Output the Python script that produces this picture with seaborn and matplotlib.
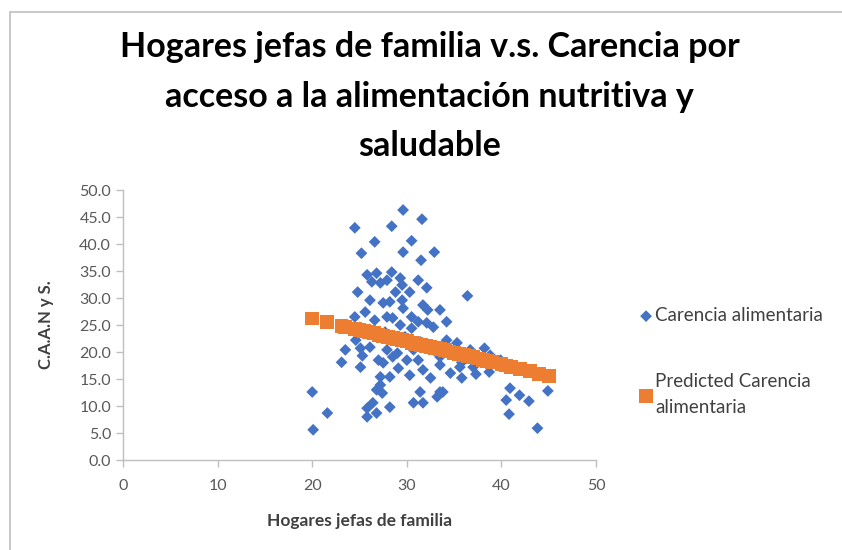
import pandas as pd
import matplotlib.pyplot as plt
import seaborn as sns
from matplotlib.patches import Rectangle

# ----- data -----
hogares = [29.6, 31.6, 24.5, 28.4, 26.6, 30.5, 25.2, 29.6, 32.9, 31.5,
           25.8, 26.8, 28.4, 26.3, 27.2, 27.9, 29.3, 29.5, 31.2, 32.1,
           24.8, 26.1, 27.5, 28.2, 29.5, 29.6, 32.2, 33.5, 36.4, 24.5,
           27.9, 30.5, 31.2, 29.3, 30.5, 32.1, 32.8, 34.2, 25.1, 26.1,
           27.9, 29.0, 30.7, 33.5, 23.1, 25.1, 27.5, 28.5, 30.0, 27.2,
           28.2, 30.3, 31.7, 33.5, 34.6, 35.6, 26.8, 27.4, 31.4, 33.5,
           30.7, 31.7, 25.8, 26.4, 28.2, 25.8, 26.8, 20.0, 21.6, 20.1,
           27.2, 33.2, 33.8, 35.3, 38.2, 35.8, 35.8, 37.0, 37.3, 38.7,
           40.9, 41.9, 40.5, 42.9, 40.8, 43.8, 44.9, 24.6, 25.3, 27.7,
           28.8, 29.8, 31.4, 32.5, 34.2, 36.7, 29.1, 31.2, 32.5, 23.5,
           28.5, 26.6, 25.6, 31.7, 30.3, 28.8, 27.0, 34.6, 39.9, 38.8]
carencia = [46.3, 44.6, 43.0, 43.3, 40.4, 40.6, 38.3, 38.5, 38.5, 37.0,
            34.3, 34.6, 34.8, 33.0, 32.8, 33.3, 33.7, 32.4, 33.3, 31.9,
            31.1, 29.6, 29.1, 29.3, 29.6, 28.1, 27.8, 27.8, 30.4, 26.5,
            26.5, 26.5, 25.6, 25.0, 24.4, 25.4, 24.6, 25.6, 20.7, 20.9,
            20.4, 19.8, 20.4, 19.1, 18.1, 17.2, 18.0, 19.1, 18.5, 15.4,
            15.4, 15.7, 16.7, 17.6, 16.1, 17.2, 13.0, 12.4, 12.6, 12.6,
            10.6, 10.6, 9.6, 10.6, 9.8, 8.0, 8.7, 12.6, 8.7, 5.6,
            13.9, 11.7, 12.6, 21.7, 20.7, 18.1, 15.2, 17.2, 15.9, 16.3,
            13.3, 12.0, 11.1, 10.9, 8.5, 5.9, 12.8, 22.2, 19.3, 23.7,
            22.2, 22.8, 21.9, 20.9, 22.2, 20.4, 17.0, 18.5, 15.2, 20.4,
            26.3, 25.9, 27.4, 28.7, 31.1, 31.1, 18.5, 20.4, 18.5, 19.4]

pred_x = [20.0, 21.6, 23.1, 23.5, 24.5, 25.0, 25.5, 26.0, 26.5, 27.0,
          27.5, 28.0, 28.5, 29.0, 29.5, 30.0, 30.5, 31.0, 31.5, 32.0,
          32.5, 33.0, 33.5, 34.0, 34.5, 35.0, 35.5, 36.0, 36.5, 37.0,
          37.5, 38.0, 38.5, 39.0, 40.0, 40.5, 41.0, 42.0, 43.0, 44.0, 45.0]
pred_y = [26.2, 25.5, 24.9, 24.7, 24.3, 24.1, 23.9, 23.7, 23.5, 23.2,
          23.0, 22.8, 22.6, 22.4, 22.2, 22.0, 21.7, 21.5, 21.3, 21.1,
          20.9, 20.7, 20.5, 20.3, 20.1, 19.8, 19.6, 19.4, 19.2, 19.0,
          18.8, 18.6, 18.4, 18.1, 17.7, 17.5, 17.3, 16.9, 16.5, 16.0, 15.6]

x_ticks = [0, 10, 20, 30, 40, 50]
y_ticks = [0, 5, 10, 15, 20, 25, 30, 35, 40, 45, 50]

df = pd.DataFrame({'hogares': hogares, 'carencia': carencia})
df_pred = pd.DataFrame({'hogares': pred_x, 'carencia': pred_y})

################# Plot #################
sns.set_theme(style="white")
plt.rcParams['font.family'] = ['Lato', 'DejaVu Sans']

fig = plt.figure(figsize=(8.42, 5.5), dpi=100)
ax = fig.add_axes([0.146, 0.1636, 0.562, 0.4909])

sns.scatterplot(data=df, x='hogares', y='carencia', marker='D', color='#4472C4',
                s=36, edgecolor='none', ax=ax, label='Carencia alimentaria', zorder=3)
sns.scatterplot(data=df_pred, x='hogares', y='carencia', marker='s', color='#ED7D31',
                s=100, edgecolor='none', ax=ax, label='Predicted Carencia\nalimentaria', zorder=4)

ax.set_xlim(0, 50)
ax.set_ylim(0, 50)
ax.set_xticks(x_ticks)
ax.set_yticks(y_ticks)
ax.set_yticklabels([f"{v:.1f}" for v in y_ticks])
ax.tick_params(axis='both', which='both', direction='out', length=5, width=1,
               color='#BFBFBF', labelcolor='#595959', labelsize=11.5,
               bottom=True, left=True)
ax.tick_params(axis='x', pad=9)
for side in ['top', 'right']:
    ax.spines[side].set_visible(False)
for side in ['left', 'bottom']:
    ax.spines[side].set_color('#BFBFBF')
    ax.spines[side].set_linewidth(1)

ax.set_xlabel("Hogares jefas de familia", fontsize=12.5, fontweight='bold',
              color='#404040', labelpad=14)
ax.set_ylabel("C.A.A.N y S.", fontsize=12, fontweight='bold', color='#404040', labelpad=18)

leg = ax.legend(loc='center left', bbox_to_anchor=(1.05, 0.365), frameon=False,
                fontsize=13.5, handletextpad=-0.5, labelspacing=2.6, borderaxespad=0)
for t in leg.get_texts():
    t.set_color('#404040')
    t.set_linespacing(1.65)

fig.text(0.51, 0.824, "Hogares jefas de familia v.s. Carencia por\nacceso a la alimentación nutritiva y\nsaludable",
         ha='center', va='center', fontsize=24.5, fontweight='bold', color='#000000',
         linespacing=1.68)

# chart frame: only left and top edges visible in the reference
fig.patches.append(Rectangle((0.012, -0.05), 1.1, 1.028, transform=fig.transFigure,
                             fill=False, edgecolor='#BFBFBF', linewidth=1.2))

plt.savefig("out.png", dpi=100)
plt.close()
